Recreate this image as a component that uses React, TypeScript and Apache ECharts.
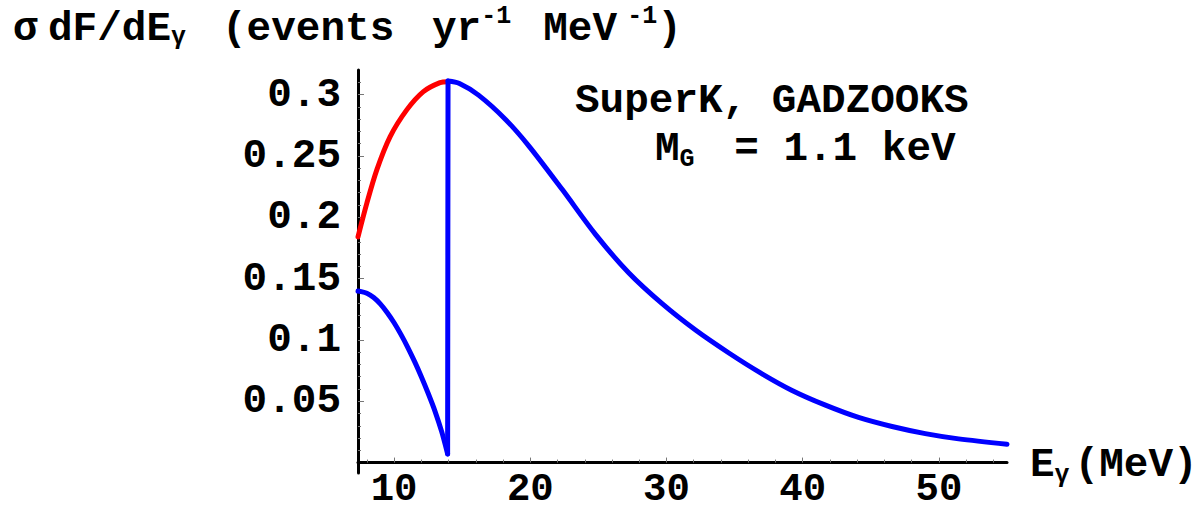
import React, { useEffect, useRef } from "react";
import * as echarts from "echarts";

// ---- data ----
const redCurve: [number, number][] = [
  [7.35, 0.184], [8.0, 0.2115], [8.73, 0.2386], [9.71, 0.2657], [10.93, 0.2875],
  [12.15, 0.3024], [13.37, 0.3097], [13.95, 0.3105],
];
const blueLow: [number, number][] = [
  [7.35, 0.1398], [7.5, 0.1396], [8.0, 0.1380], [8.5, 0.1345], [9.0, 0.1292],
  [9.5, 0.1222], [10.0, 0.1140], [10.5, 0.1045], [11.0, 0.0940], [11.5, 0.0825],
  [12.0, 0.0700], [12.5, 0.0565], [13.0, 0.0420], [13.5, 0.0250], [13.93, 0.007],
];
const blueJump: [number, number][] = [
  [13.93, 0.007], [13.96, 0.311],
];
const blueTail: [number, number][] = [
  [13.96, 0.311], [14.8, 0.309], [16.2, 0.2995], [18.2, 0.2795], [19.9, 0.258],
  [22.35, 0.2225], [24.8, 0.1858], [27.24, 0.1545], [29.68, 0.1295], [32.13, 0.108],
  [34.58, 0.0893], [36.9, 0.0731], [39.22, 0.0588], [41.67, 0.0468], [44.1, 0.0368],
  [46.56, 0.0294], [49.0, 0.0236], [51.45, 0.0193], [55.0, 0.015],
];
const xTickLabels = [10, 20, 30, 40, 50];
const xMinorTicks = [8, 12, 14, 16, 18, 22, 24, 26, 28, 32, 34, 36, 38, 42, 44, 46, 48, 52, 54];
const yTickLabels = [0.05, 0.1, 0.15, 0.2, 0.25, 0.3];
const yMinorTicks = [
  0.01, 0.02, 0.03, 0.04, 0.06, 0.07, 0.08, 0.09, 0.11, 0.12, 0.13, 0.14,
  0.16, 0.17, 0.18, 0.19, 0.21, 0.22, 0.23, 0.24, 0.26, 0.27, 0.28, 0.29, 0.31,
];

const X_MIN = 7.35;
const X_MAX = 55;
const Y_MIN = -0.0085;
const Y_MAX = 0.32;

const FONT = "'Liberation Mono', 'DejaVu Sans Mono', monospace";
const FS = 41;

const main = { fontFamily: FONT, fontWeight: "bold" as const, fontSize: FS, lineHeight: 46, fill: "#000" };
const mainPad = { ...main, padding: [4, 0, 0, 0] };
const sup = { fontFamily: FONT, fontWeight: "bold" as const, fontSize: 25, lineHeight: 18, verticalAlign: "top" as const, fill: "#000" };
const sub = { fontFamily: FONT, fontWeight: "bold" as const, fontSize: 25, lineHeight: 25, verticalAlign: "bottom" as const, fill: "#000" };

export default function App() {
  const ref = useRef<HTMLDivElement>(null);
  useEffect(() => {
    if (!ref.current) return;
    const chart = echarts.init(ref.current, undefined, { renderer: "svg" });
    const lineSeries = (data: [number, number][], color: string, smooth: number | boolean) => ({
      type: "line",
      data,
      xAxisIndex: 0,
      yAxisIndex: 0,
      showSymbol: false,
      smooth,
      lineStyle: { color, width: 5, cap: "round", join: "round" },
      silent: true,
    });
    const labelStyle = { fontFamily: FONT, fontWeight: "bold", fontSize: FS, color: "#000" };
    chart.setOption({
      animation: false,
      backgroundColor: "#fff",
      grid: { left: 358, right: 194, top: 70, bottom: 34, containLabel: false, outerBoundsMode: "none" },
      xAxis: [
        {
          type: "value", min: X_MIN, max: X_MAX, position: "bottom",
          axisLine: { show: true, onZero: true, onZeroAxisIndex: 0, lineStyle: { color: "#000", width: 3 } },
          axisTick: { show: true, inside: true, length: 5, customValues: xTickLabels, lineStyle: { color: "#777", width: 1 } },
          axisLabel: { show: true, customValues: xTickLabels, margin: 7, lineHeight: 20, ...labelStyle, fontSize: 39 },
          splitLine: { show: false },
        },
        {
          type: "value", min: X_MIN, max: X_MAX, position: "bottom",
          axisLine: { show: false, onZero: true, onZeroAxisIndex: 0 },
          axisTick: { show: true, inside: true, length: 3, customValues: xMinorTicks, lineStyle: { color: "#777", width: 1 } },
          axisLabel: { show: false },
          splitLine: { show: false },
        },
      ],
      yAxis: [
        {
          type: "value", min: Y_MIN, max: Y_MAX, position: "left",
          axisLine: { show: true, onZero: false, lineStyle: { color: "#000", width: 3 } },
          axisTick: { show: true, inside: true, length: 6, customValues: yTickLabels, lineStyle: { color: "#777", width: 1 } },
          axisLabel: { show: true, customValues: yTickLabels, margin: 17, formatter: (v: number) => String(v), ...labelStyle },
          splitLine: { show: false },
        },
        {
          type: "value", min: Y_MIN, max: Y_MAX, position: "left",
          axisLine: { show: false, onZero: false },
          axisTick: { show: true, inside: true, length: 3, customValues: yMinorTicks, lineStyle: { color: "#777", width: 1 } },
          axisLabel: { show: false },
          splitLine: { show: false },
        },
      ],
      series: [
        lineSeries(redCurve, "#ff0000", 0.3),
        lineSeries(blueLow, "#0000ff", 0.3),
        lineSeries(blueJump, "#0000ff", false),
        lineSeries(blueTail, "#0000ff", 0.3),
      ],
      graphic: [
        {
          type: "text", x: 13, y: 4, silent: true,
          style: {
            text: "{s|σ}{m|dF/dE}{g|γ}{e|(events }{m|yr}{p|-1}{v|MeV}{q|-1}{m|)}",
            align: "left", verticalAlign: "top",
            rich: {
              s: { ...mainPad, width: 35 },
              m: { ...mainPad },
              g: { ...sub, width: 51 },
              e: { ...mainPad, width: 210 },
              p: { ...sup, width: 62 },
              v: { ...mainPad, width: 84 },
              q: { ...sup, width: 30 },
            },
          },
        },
        {
          type: "text", x: 1030, y: 442, silent: true,
          style: {
            text: "{m|E}{g|γ}{m|(MeV)}",
            align: "left", verticalAlign: "top",
            rich: { m: { ...main }, g: { ...sub, width: 20 } },
          },
        },
        {
          type: "text", x: 575, y: 80, silent: true,
          style: {
            text: "SuperK, GADZOOKS",
            align: "left", verticalAlign: "top",
            fontFamily: FONT, fontWeight: "bold", fontSize: FS, fill: "#000",
          },
        },
        {
          type: "text", x: 655, y: 126, silent: true,
          style: {
            text: "{m|M}{g|G}{m| = 1.1 keV}",
            align: "left", verticalAlign: "top",
            rich: { m: { ...main }, g: { ...sub, width: 30 } },
          },
        },
      ],
    });
    return () => chart.dispose();
  }, []);
  return (
    <div
      ref={ref}
      style={{ position: "absolute", left: 0, top: 0, width: 1201, height: 507, background: "#fff" }}
    />
  );
}
